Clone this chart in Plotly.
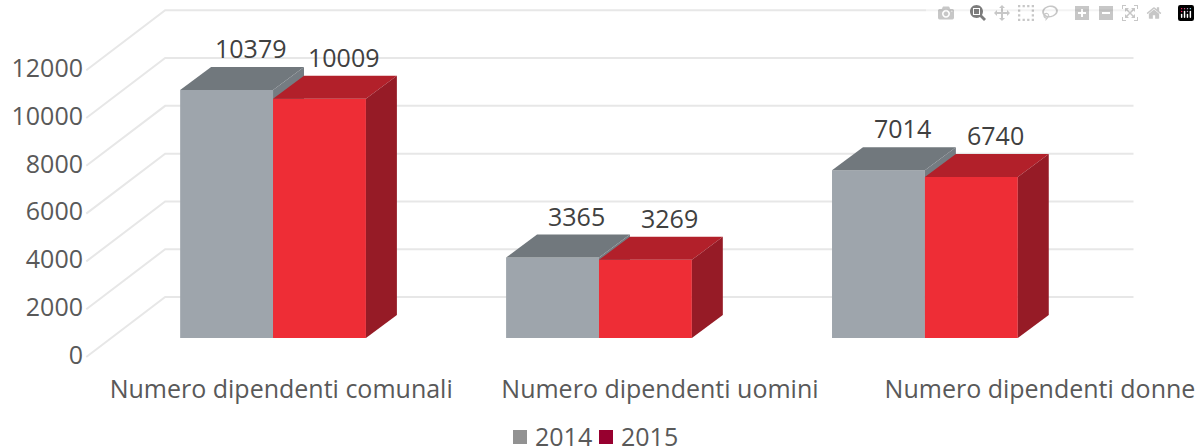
import plotly.graph_objects as go

# chart values
categories = ['Numero dipendenti comunali', 'Numero dipendenti uomini', 'Numero dipendenti donne']
series_names = ['2014', '2015']
values_2014 = [10379, 3365, 7014]
values_2015 = [10009, 3269, 6740]
y_ticks = [0, 2000, 4000, 6000, 8000, 10000, 12000]

FONT = 'Open Sans'
FONT_SIZE = 25
TEXT = '#595959'

# the picture's oblique projection, in axis units
BAR_W = 0.285
BAR_DX = 0.095
BAR_DY = 962
WALL_DX = 0.242
WALL_DY = 2510

def px_x(px):
    return (px - 84) / 1116

def px_y(px):
    return (372 - px) / 372

def add_bar_series(fig, values, name, front, top, side, offset, yaxis):
    xs = [i + offset for i in range(len(values))]
    fig.add_trace(go.Bar(x=xs, y=values, width=BAR_W, name=name, marker_color=front,
                         marker_line_width=0, xaxis='x', yaxis=yaxis))
    for x, v in zip(xs, values):
        left = x - BAR_W / 2
        right = x + BAR_W / 2
        fig.add_trace(go.Scatter(
            x=[left, right, right + BAR_DX, left + BAR_DX, left],
            y=[v, v, v + BAR_DY, v + BAR_DY, v],
            fill='toself', fillcolor=top, mode='none', xaxis='x', yaxis=yaxis))
        fig.add_trace(go.Scatter(
            x=[right, right + BAR_DX, right + BAR_DX, right, right],
            y=[v, v + BAR_DY, BAR_DY, 0, v],
            fill='toself', fillcolor=side, mode='none', xaxis='x', yaxis=yaxis))

fig = go.Figure()

# back wall gridlines with their oblique run towards the front
for tick in y_ticks:
    fig.add_trace(go.Scatter(
        x=[-0.573, -0.331, 2.64],
        y=[tick - 84, tick + WALL_DY - 84, tick + WALL_DY - 84],
        mode='lines', line=dict(color='#e7e7e7', width=2), xaxis='x', yaxis='y'))

add_bar_series(fig, values_2014, series_names[0], '#9ea5ac', '#71787d', '#757c82', -BAR_W / 2, 'y2')
add_bar_series(fig, values_2015, series_names[1], '#ee2d36', '#b2202a', '#961b26', BAR_W / 2, 'y3')

# value labels float above and behind each bar
annotations = []
for values, offset in ((values_2014, -BAR_W / 2), (values_2015, BAR_W / 2)):
    for i, v in enumerate(values):
        annotations.append(dict(x=i + offset, y=v, xref='x', yref='y2', text=str(v), showarrow=False,
                                xshift=24, yshift=42, font=dict(family=FONT, size=FONT_SIZE, color='#404040')))

# legend
legend_colors = ['#929292', '#97002f']
legend_left = [513, 599]
shapes = []
for name, color, left in zip(series_names, legend_colors, legend_left):
    shapes.append(dict(type='rect', xref='paper', yref='paper', x0=px_x(left), x1=px_x(left + 14),
                       y0=px_y(444), y1=px_y(430), fillcolor=color, line_width=0))
    annotations.append(dict(x=px_x(left + 20), y=px_y(436), xref='paper', yref='paper', text=name,
                            showarrow=False, xanchor='left', yanchor='middle',
                            font=dict(family=FONT, size=FONT_SIZE, color=TEXT)))

fig.update_layout(
    width=1200,
    height=448,
    margin=dict(l=84, r=0, t=0, b=76),
    paper_bgcolor='white',
    plot_bgcolor='white',
    showlegend=False,
    barmode='overlay',
    hovermode=False,
    font=dict(family=FONT, size=FONT_SIZE, color=TEXT),
    xaxis=dict(range=[-0.58, 2.844], tickvals=[0.025, 1.187, 2.353], ticktext=categories,
               showgrid=False, zeroline=False, showline=False, ticks='', tickangle=0),
    yaxis=dict(range=[-711, 14854], tickvals=y_ticks, showgrid=False, zeroline=False,
               showline=False, ticks='', tickformat='d'),
    yaxis2=dict(range=[-1423, 14142], overlaying='y', visible=False),
    yaxis3=dict(range=[-1423, 14142], overlaying='y', visible=False),
    annotations=annotations,
    shapes=shapes,
)

# the page's default body margin would push the figure off the window
fig.write_html("out.html", post_script="document.body.style.margin='0';")
